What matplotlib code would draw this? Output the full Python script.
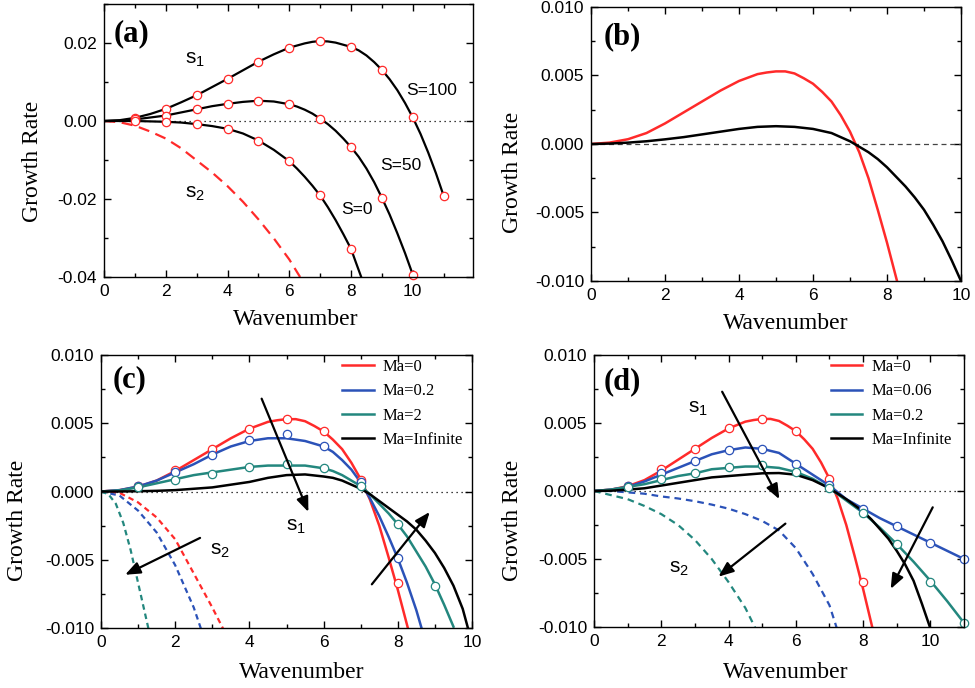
import matplotlib
matplotlib.use("Agg")
import matplotlib.pyplot as plt
from matplotlib.ticker import MultipleLocator, FormatStrFormatter

plt.rcParams["font.family"] = "Liberation Sans"
plt.rcParams["axes.unicode_minus"] = False
plt.rcParams["mathtext.fontset"] = "custom"
plt.rcParams["mathtext.rm"] = "Liberation Sans"
plt.rcParams["mathtext.it"] = "Liberation Sans:italic"

RED = "#ff2a2a"
BLUE = "#2b52b8"
TEAL = "#23877e"

# ---------------- panel (a) ----------------
a_k100 = [0, 0.5, 1, 1.5, 2, 2.5, 3, 3.5, 4, 4.5, 5, 5.5, 6, 6.5, 6.75, 7, 7.25, 7.5, 8,
          8.25, 8.5, 8.75, 9, 9.25, 9.5, 9.75, 10, 10.25, 10.5, 10.75, 11]
a_s100 = [0, 0.0002, 0.0008, 0.0018, 0.0031, 0.0048, 0.0066, 0.0087, 0.0108, 0.013, 0.0152, 0.0171,
          0.0188, 0.0199, 0.0203, 0.0205, 0.0204, 0.0201, 0.019,
          0.0181, 0.0168, 0.0151, 0.0131, 0.0107, 0.0079, 0.0046, 0.0009, -0.0033, -0.0081, -0.0134, -0.0192]
a_pts_k100 = [1, 2, 3, 4, 5, 6, 7, 8, 9, 10, 11]
a_pts100 = [0.0008, 0.0031, 0.0066, 0.0108, 0.0152, 0.0188, 0.0205, 0.019, 0.0131, 0.0009, -0.0192]

a_k50 = [0, 0.5, 1, 1.5, 2, 2.5, 3, 3.5, 4, 4.5, 5, 5.5, 6, 6.25, 6.5, 6.75, 7, 7.25, 7.5, 7.75,
         8, 8.25, 8.5, 8.75, 9, 9.25, 9.5, 9.75, 10]
a_s50 = [0, 0.0001, 0.0004, 0.0009, 0.0014, 0.0022, 0.003, 0.0038, 0.0044, 0.0049, 0.0052, 0.005,
         0.0043, 0.0037, 0.0029, 0.0019, 0.0006, -0.0008, -0.0025, -0.0045,
         -0.0067, -0.0092, -0.0122, -0.0157, -0.0197, -0.024, -0.0288, -0.0339, -0.0394]
a_pts_k50 = [1, 2, 3, 4, 5, 6, 7, 8, 9, 10]
a_pts50 = [0.0004, 0.0014, 0.003, 0.0044, 0.0052, 0.0043, 0.0006, -0.0067, -0.0197, -0.0394]

a_k0 = [0, 0.5, 1, 1.5, 2, 2.5, 3, 3.5, 4, 4.5, 5, 5.5, 6, 6.25, 6.5, 6.75, 7, 7.25, 7.5, 7.75,
        8, 8.15, 8.33]
a_s0 = [0, 0, 0, -0.0001, -0.0002, -0.0004, -0.0008, -0.0013, -0.002, -0.0032, -0.005, -0.0074,
        -0.0103, -0.0122, -0.0143, -0.0166, -0.0191, -0.0221, -0.0254, -0.029,
        -0.0328, -0.0361, -0.04]
a_pts_k0 = [1, 2, 3, 4, 5, 6, 7, 8]
a_pts0 = [0, -0.0002, -0.0008, -0.002, -0.005, -0.0103, -0.0191, -0.0328]

a_k_s2 = [0, 0.5, 1, 1.5, 2, 2.5, 3, 3.5, 4, 4.5, 5, 5.5, 6, 6.35]
a_s2 = [0, -0.0003, -0.0012, -0.0027, -0.0045, -0.007, -0.0101, -0.0132, -0.0167, -0.0207, -0.0252,
        -0.0301, -0.0355, -0.04]

# ---------------- shared curves (b, c, d) ----------------
k_ma0 = [0, 0.5, 1, 1.5, 2, 2.5, 3, 3.5, 4, 4.5, 4.75, 5, 5.25, 5.5, 5.75, 6, 6.25, 6.5, 6.75,
         7, 7.25, 7.5, 7.75, 8, 8.3]
g_ma0 = [0, 0.0001, 0.00035, 0.0008, 0.0015, 0.0023, 0.0031, 0.0039, 0.0046, 0.0051, 0.00522, 0.0053,
         0.0053, 0.00515, 0.0048, 0.0044, 0.0038, 0.0031, 0.0021,
         0.0009, -0.0006, -0.0025, -0.0048, -0.0072, -0.0103]
k_b_inf = [0, 0.5, 1, 1.5, 2, 2.5, 3, 3.5, 4, 4.5, 5, 5.5, 6, 6.5, 7, 7.25, 7.5, 7.75, 8,
           8.25, 8.5, 8.75, 9, 9.25, 9.5, 9.75, 10]
g_b_inf = [0, 0.00003, 0.0001, 0.0002, 0.00034, 0.0005, 0.0007, 0.0009, 0.0011, 0.00125, 0.0013,
           0.00125, 0.0011, 0.0008, 0.0002, -0.0002, -0.0006, -0.0011, -0.0017,
           -0.0024, -0.0031, -0.0039, -0.0048, -0.0059, -0.0071, -0.0085, -0.01]

k_int = [1, 2, 3, 4, 5, 6, 7, 8, 9, 10, 11]
pts_ma0 = [0.00037, 0.0016, 0.0031, 0.0046, 0.0053, 0.0044, 0.00086, -0.0067]

# ---------------- panel (c) ----------------
c_k_blue = [0, 0.5, 1, 1.5, 2, 2.5, 3, 3.5, 4, 4.5, 4.75, 5, 5.5, 6, 6.25, 6.5, 6.75, 7, 7.25,
            7.5, 7.75, 8, 8.25, 8.5, 8.65]
c_blue = [0, 0.0001, 0.00037, 0.0008, 0.0014, 0.002, 0.0027, 0.0033, 0.0037, 0.0039, 0.0039, 0.0039,
          0.0037, 0.0033, 0.0029, 0.0023, 0.0016, 0.00066, -0.0005,
          -0.0018, -0.0033, -0.0049, -0.0067, -0.0087, -0.0101]
c_pts_blue = [0.00037, 0.0014, 0.0027, 0.0038, 0.0042, 0.0033, 0.00066, -0.0049]
c_k_teal = [0, 0.5, 1, 1.5, 2, 2.5, 3, 3.5, 4, 4.5, 5, 5.5, 6, 6.25, 6.5, 6.75, 7, 7.25, 7.5,
            7.75, 8, 8.25, 8.5, 8.75, 9, 9.25, 9.5]
c_teal = [0, 0.00008, 0.0003, 0.0006, 0.0009, 0.0012, 0.0014, 0.0016, 0.0018, 0.0019, 0.0019, 0.0019,
          0.0017, 0.0015, 0.0012, 0.0008, 0.0004, -0.0002, -0.0009,
          -0.0016, -0.0024, -0.0033, -0.0044, -0.0055, -0.0068, -0.0083, -0.0099]
c_pts_teal = [0.0003, 0.00085, 0.0013, 0.0018, 0.002, 0.0017, 0.00037, -0.0024, -0.0069]
c_k_inf = [0, 0.5, 1, 1.5, 2, 2.5, 3, 3.5, 4, 4.5, 5, 5.5, 6, 6.25, 6.5, 6.75, 7, 7.25, 7.5,
           7.75, 8, 8.25, 8.5, 8.75, 9, 9.25, 9.5, 9.75, 9.9]
c_inf = [0, 0, 0.00002, 0.00005, 0.0001, 0.0002, 0.0003, 0.0005, 0.0007, 0.001, 0.0012, 0.00125,
         0.0011, 0.001, 0.0008, 0.0005, 0.0002, -0.0002, -0.0007,
         -0.0012, -0.0017, -0.0022, -0.0028, -0.0036, -0.0045, -0.0056, -0.0069, -0.0086, -0.0101]
c_k_s2_red = [0, 0.5, 1, 1.5, 2, 2.5, 3, 3.3]
c_s2_red = [0, -0.0001, -0.0008, -0.0019, -0.0035, -0.006, -0.0085, -0.0101]
c_k_s2_blue = [0, 0.5, 1, 1.5, 2, 2.5, 2.7]
c_s2_blue = [0, -0.0003, -0.0014, -0.003, -0.0054, -0.0085, -0.0101]
c_k_s2_teal = [0, 0.2, 0.4, 0.6, 0.8, 1.0, 1.2, 1.3]
c_s2_teal = [0, -0.0002, -0.0009, -0.0023, -0.0043, -0.0067, -0.0091, -0.0103]

# ---------------- panel (d) ----------------
d_k = [0, 0.5, 1, 1.5, 2, 2.5, 3, 3.5, 4, 4.5, 5, 5.5, 6, 6.5, 7, 7.5, 8, 8.5, 9, 9.5, 10, 10.5, 11]
d_blue = [0, 0.0001, 0.0003, 0.0007, 0.0012, 0.0017, 0.0022, 0.0027, 0.003, 0.0032, 0.0031, 0.0028,
          0.002, 0.0012, 0.0004, -0.0006, -0.0013, -0.002, -0.0026, -0.0032, -0.0038, -0.0044, -0.005]
d_pts_blue = [0.00037, 0.0013, 0.0022, 0.003, 0.0031, 0.002, 0.00042, -0.0013, -0.0026, -0.0038, -0.005]
d_teal = [0, 0.0001, 0.0003, 0.0005, 0.0008, 0.0011, 0.0013, 0.0016, 0.0017, 0.0018, 0.0018, 0.0017,
          0.0014, 0.0009, 0.0002, -0.0007, -0.0016, -0.0027, -0.0039, -0.0052, -0.0066, -0.0081, -0.0097]
d_pts_teal = [0.0003, 0.00085, 0.0013, 0.0018, 0.0019, 0.0014, 0.00025, -0.0016, -0.0039, -0.0067, -0.0097]
d_k_inf = [0, 0.5, 1, 1.5, 2, 2.5, 3, 3.5, 4, 4.5, 5, 5.5, 6, 6.5, 7, 7.5, 8, 8.25, 8.5, 8.75,
           9, 9.25, 9.5, 9.75, 10]
d_inf = [0, 0.00002, 0.0001, 0.0002, 0.0004, 0.0006, 0.0008, 0.001, 0.0011, 0.0012, 0.0013, 0.00132,
         0.0012, 0.0008, 0.0002, -0.0006, -0.0015, -0.0021, -0.0028, -0.0035,
         -0.0044, -0.0054, -0.0066, -0.0083, -0.0101]
d_k_s2_blue = [0, 0.5, 1, 1.5, 2, 2.5, 3, 3.5, 4, 4.5, 5, 5.5, 6, 6.5, 7, 7.22]
d_s2_blue = [0, 0, -0.0001, -0.0002, -0.0004, -0.00055, -0.00075, -0.001, -0.0013, -0.0017, -0.0022,
             -0.0029, -0.0042, -0.0061, -0.0084, -0.0101]
d_k_s2_teal = [0, 0.5, 1, 1.5, 2, 2.5, 3, 3.5, 4, 4.5, 4.8]
d_s2_teal = [0, -0.0003, -0.0006, -0.0011, -0.0017, -0.0025, -0.0036, -0.005, -0.0067, -0.0086, -0.0101]

W, H = 975, 688
fig = plt.figure(figsize=(W / 100, H / 100), dpi=100)


def add_ax(left, right, top, bottom):
    return fig.add_axes([left / W, 1 - bottom / H, (right - left) / W, (bottom - top) / H])


def style(ax, xmaj, ymaj, fmt):
    ax.xaxis.set_major_locator(MultipleLocator(xmaj))
    ax.xaxis.set_minor_locator(MultipleLocator(xmaj / 2))
    ax.yaxis.set_major_locator(MultipleLocator(ymaj))
    ax.yaxis.set_minor_locator(MultipleLocator(ymaj / 2))
    ax.yaxis.set_major_formatter(FormatStrFormatter(fmt))
    ax.tick_params(which="both", direction="in", top=True, right=True, width=1, labelsize=12.5)
    ax.tick_params(which="major", length=5, pad=5)
    ax.tick_params(which="minor", length=3)
    for s in ax.spines.values():
        s.set_linewidth(1.0)


def labels(xlab, ylab):
    fig.text(xlab[0] / W, 1 - xlab[1] / H, "Wavenumber", family="Liberation Serif",
             fontsize=17, ha="center", va="center")
    fig.text(ylab[0] / W, 1 - ylab[1] / H, "Growth Rate", family="Liberation Serif",
             fontsize=17, ha="center", va="center", rotation=90)


def arrow(ax, start, end):
    ax.annotate("", xy=end, xytext=start,
                arrowprops=dict(arrowstyle="-|>,head_length=0.6,head_width=0.24",
                                color="k", lw=1.6, mutation_scale=15, shrinkA=0, shrinkB=0))


mk = dict(marker="o", markersize=6, markerfacecolor="white", markeredgewidth=0.9)

# ---- (a)
ax = add_ax(104, 473, 4, 277)
ax.axhline(0, color="k", lw=0.9, ls=(0, (1, 3)))
ax.plot(a_k_s2, a_s2, color=RED, lw=1.6, dashes=(5, 3))
for k, g in [(a_k100, a_s100), (a_k50, a_s50), (a_k0, a_s0)]:
    ax.plot(k, g, color="k", lw=1.6)
for k, g in [(a_pts_k100, a_pts100), (a_pts_k50, a_pts50), (a_pts_k0, a_pts0)]:
    ax.plot(k, g, ls="none", markeredgecolor=RED, clip_on=False, **mk)
ax.set_xlim(0, 11.95)
ax.set_ylim(-0.04, 0.03)
style(ax, 2, 0.02, "%.2f")
ax.text(0.3, 0.0225, "(a)", family="Liberation Serif", weight="bold", fontsize=22, va="center")
ax.text(2.95, 0.0157, r"$\mathrm{s_1}$", fontsize=15, ha="center", va="center")
ax.text(2.95, -0.0186, r"$\mathrm{s_2}$", fontsize=15, ha="center", va="center")
ax.text(10.6, 0.0078, "S=100", fontsize=12.5, ha="center", va="center")
ax.text(9.6, -0.0115, "S=50", fontsize=12.5, ha="center", va="center")
ax.text(8.2, -0.0228, "S=0", fontsize=12.5, ha="center", va="center")
labels((296, 320), (32, 161))

# ---- (b)
ax = add_ax(591, 961, 7, 281)
ax.axhline(0, color="#444444", lw=0.9, ls=(0, (4, 3)))
ax.plot(k_ma0, g_ma0, color=RED, lw=1.8)
ax.plot(k_b_inf, g_b_inf, color="k", lw=1.8)
ax.set_xlim(0, 10)
ax.set_ylim(-0.01, 0.01)
style(ax, 2, 0.005, "%.3f")
ax.text(0.35, 0.0078, "(b)", family="Liberation Serif", weight="bold", fontsize=22, va="center")
labels((786, 323), (513, 172))


def ma_panel(ax, curves, pts, dashed, legend_x, dash):
    ax.axhline(0, color="k", lw=0.9, ls=(0, (1, 3)))
    for k, g, c in dashed:
        ax.plot(k, g, color=c, lw=1.6, dashes=dash)
    for (k, g, c, lab) in curves:
        ax.plot(k, g, color=c, lw=1.8, label=lab)
    for g, c in pts:
        ax.plot(k_int[:len(g)], g, ls="none", markeredgecolor=c, clip_on=False, **mk)
    ax.set_ylim(-0.01, 0.01)
    style(ax, 2, 0.005, "%.3f")
    ax.legend(loc="upper left", bbox_to_anchor=(legend_x, 0.985), frameon=False,
              prop=dict(family="Liberation Serif", size=12), handlelength=1.9,
              handletextpad=0.55, labelspacing=0.5, borderpad=0, borderaxespad=0)


# ---- (c)
ax = add_ax(101, 472, 355, 628)
ma_panel(ax,
         [(k_ma0, g_ma0, RED, "Ma=0"), (c_k_blue, c_blue, BLUE, "Ma=0.2"),
          (c_k_teal, c_teal, TEAL, "Ma=2"), (c_k_inf, c_inf, "k", "Ma=Infinite")],
         [(pts_ma0, RED), (c_pts_blue, BLUE), (c_pts_teal, TEAL)],
         [(c_k_s2_red, c_s2_red, RED), (c_k_s2_blue, c_s2_blue, BLUE), (c_k_s2_teal, c_s2_teal, TEAL)],
         0.65, (2.5, 1.8))
ax.set_xlim(0, 10)
ax.text(0.3, 0.0082, "(c)", family="Liberation Serif", weight="bold", fontsize=22, va="center")
ax.text(5.25, -0.0026, r"$\mathrm{s_1}$", fontsize=15, ha="center", va="center")
ax.text(3.2, -0.0043, r"$\mathrm{s_2}$", fontsize=15, ha="center", va="center")
arrow(ax, (4.33, 0.0068), (5.59, -0.0015))
arrow(ax, (2.67, -0.0034), (0.65, -0.0061))
arrow(ax, (7.3, -0.0068), (8.86, -0.0015))
labels((302, 672), (18, 520))

# ---- (d)
ax = add_ax(594, 964, 355, 627)
ma_panel(ax,
         [(k_ma0, g_ma0, RED, "Ma=0"), (d_k, d_blue, BLUE, "Ma=0.06"),
          (d_k, d_teal, TEAL, "Ma=0.2"), (d_k_inf, d_inf, "k", "Ma=Infinite")],
         [(pts_ma0, RED), (d_pts_blue, BLUE), (d_pts_teal, TEAL)],
         [(d_k_s2_blue, d_s2_blue, BLUE), (d_k_s2_teal, d_s2_teal, TEAL)],
         0.64, (3, 2.2))
ax.set_xlim(0, 11)
ax.text(0.3, 0.008, "(d)", family="Liberation Serif", weight="bold", fontsize=22, va="center")
ax.text(3.1, 0.0061, r"$\mathrm{s_1}$", fontsize=15, ha="center", va="center")
ax.text(2.53, -0.0057, r"$\mathrm{s_2}$", fontsize=15, ha="center", va="center")
arrow(ax, (3.81, 0.0073), (5.51, -0.0006))
arrow(ax, (5.69, -0.0024), (3.7, -0.0063))
arrow(ax, (10.07, -0.0012), (8.82, -0.0072))
labels((786, 672), (513, 520))

fig.savefig("out.png", dpi=100)
